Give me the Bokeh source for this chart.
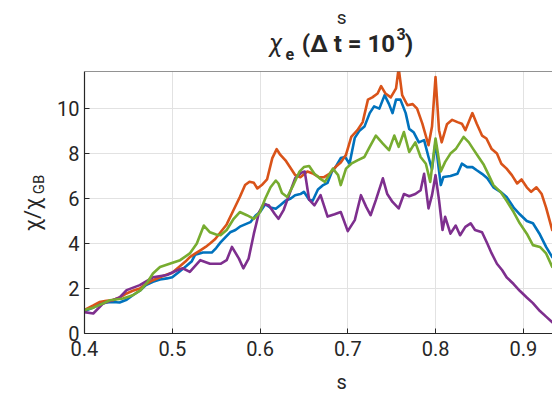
import numpy as np
from bokeh.plotting import figure
from bokeh.models import Range1d, FixedTicker, Span
from bokeh.layouts import row, column
from bokeh.core.properties import value
from bokeh.embed import file_html
from bokeh.resources import INLINE

# ---------------- data ----------------
s_blue = [0.400, 0.410, 0.417, 0.425, 0.432, 0.440, 0.448, 0.455, 0.463, 0.470,
          0.478, 0.486, 0.494, 0.500, 0.508, 0.516, 0.522, 0.526, 0.535, 0.545,
          0.550, 0.555, 0.561, 0.566, 0.572, 0.577, 0.583, 0.589, 0.595, 0.600,
          0.606, 0.612, 0.618, 0.623, 0.629, 0.635, 0.640, 0.646, 0.650, 0.656,
          0.660, 0.666, 0.672, 0.677, 0.682, 0.686, 0.692, 0.697, 0.702, 0.708,
          0.713, 0.719, 0.725, 0.730, 0.736, 0.742, 0.747, 0.751, 0.755, 0.760,
          0.766, 0.770, 0.775, 0.781, 0.787, 0.792, 0.796, 0.800, 0.806, 0.809,
          0.817, 0.825, 0.830, 0.836, 0.842, 0.847, 0.853, 0.859, 0.866, 0.874,
          0.881, 0.889, 0.896, 0.904, 0.911, 0.919, 0.926, 0.933]
chi_blue = [1.0, 1.15, 1.3, 1.38, 1.4, 1.38, 1.5, 1.7, 1.9, 2.15,
            2.3, 2.4, 2.45, 2.5, 2.75, 3.0, 3.2, 3.5, 3.6, 3.6,
            3.8, 4.05, 4.3, 4.5, 4.6, 4.75, 4.85, 4.95, 5.25, 5.4,
            5.75, 5.6, 5.55, 5.7, 5.9, 6.0, 6.15, 6.2, 6.3, 5.95,
            5.9, 6.4, 6.6, 6.7, 7.2, 7.4, 7.8, 7.85, 7.55, 8.7,
            9.0, 9.2, 9.8, 10.1, 10.0, 10.6, 10.2, 9.8, 10.4, 10.4,
            9.8, 9.1, 8.95, 8.5, 8.6, 7.85, 7.3, 8.5, 6.6, 6.96,
            7.0, 7.1, 7.55, 7.4, 7.4, 7.26, 7.1, 6.9, 6.5, 6.3,
            6.07, 5.6, 5.3, 5.0, 4.9, 4.4, 3.85, 3.4]

s_orange = [0.400, 0.410, 0.417, 0.425, 0.432, 0.440, 0.448, 0.455, 0.463, 0.470,
            0.478, 0.486, 0.494, 0.500, 0.509, 0.515, 0.520, 0.526, 0.532, 0.538,
            0.543, 0.549, 0.555, 0.562, 0.570, 0.577, 0.583, 0.588, 0.593, 0.597,
            0.602, 0.608, 0.614, 0.619, 0.623, 0.629, 0.635, 0.640, 0.646, 0.654,
            0.661, 0.667, 0.673, 0.679, 0.686, 0.692, 0.698, 0.704, 0.711, 0.717,
            0.723, 0.728, 0.734, 0.738, 0.743, 0.749, 0.755, 0.758, 0.762, 0.768,
            0.774, 0.779, 0.785, 0.792, 0.796, 0.800, 0.804, 0.807, 0.813, 0.819,
            0.825, 0.830, 0.834, 0.842, 0.847, 0.853, 0.858, 0.864, 0.870, 0.875,
            0.881, 0.887, 0.893, 0.898, 0.904, 0.909, 0.915, 0.921, 0.926, 0.933]
chi_orange = [1.05, 1.25, 1.4, 1.45, 1.48, 1.6, 1.78, 1.9, 2.0, 2.2,
              2.37, 2.5, 2.62, 2.7, 3.0, 3.2, 3.4, 3.55, 3.7, 3.85,
              4.0, 4.2, 4.5, 4.85, 5.5, 6.07, 6.6, 6.75, 6.7, 6.45,
              6.6, 6.85, 7.8, 8.2, 7.95, 7.7, 7.35, 7.05, 6.95, 7.2,
              7.1, 6.95, 6.95, 7.1, 7.4, 7.6, 7.95, 8.74, 9.04, 9.4,
              10.4, 10.5, 10.67, 11.0, 10.67, 10.5, 10.9, 11.8, 10.6, 10.15,
              10.2, 10.0, 9.33, 8.37, 9.2, 11.4, 9.04, 8.5, 9.3, 9.5,
              9.4, 9.33, 9.04, 9.8, 9.33, 8.8, 8.67, 8.2, 8.0, 7.55,
              7.33, 7.04, 6.67, 6.85, 6.5, 6.3, 6.5, 6.2, 5.6, 4.6]

s_green = [0.400, 0.410, 0.417, 0.429, 0.444, 0.455, 0.464, 0.472, 0.478, 0.486,
           0.497, 0.503, 0.509, 0.520, 0.528, 0.536, 0.543, 0.550, 0.555, 0.562,
           0.570, 0.577, 0.585, 0.593, 0.600, 0.606, 0.612, 0.618, 0.621, 0.625,
           0.631, 0.638, 0.645, 0.650, 0.656, 0.662, 0.668, 0.674, 0.683, 0.689,
           0.692, 0.698, 0.704, 0.711, 0.719, 0.725, 0.732, 0.740, 0.747, 0.753,
           0.758, 0.764, 0.770, 0.777, 0.783, 0.789, 0.794, 0.800, 0.806, 0.811,
           0.817, 0.823, 0.828, 0.832, 0.838, 0.843, 0.849, 0.855, 0.860, 0.866,
           0.874, 0.881, 0.889, 0.896, 0.904, 0.911, 0.919, 0.926, 0.933]
chi_green = [1.04, 1.15, 1.26, 1.48, 1.56, 1.7, 1.93, 2.3, 2.67, 2.96,
             3.1, 3.18, 3.26, 3.56, 4.0, 4.8, 4.5, 4.4, 4.37, 4.6,
             5.1, 5.4, 5.26, 5.1, 5.4, 6.0, 6.5, 6.8, 6.67, 6.25,
             6.07, 6.6, 7.2, 7.4, 7.45, 7.1, 6.9, 6.74, 7.33, 7.04,
             6.6, 7.33, 7.55, 7.7, 7.85, 8.3, 8.8, 8.44, 8.15, 8.8,
             8.3, 8.96, 8.07, 8.5, 7.85, 7.55, 6.74, 8.67, 7.2, 7.63,
             8.0, 8.2, 8.5, 8.74, 8.5, 8.2, 7.85, 7.5, 7.1, 6.6,
             6.3, 5.9, 5.4, 4.9, 4.44, 3.93, 3.85, 3.56, 2.96]

s_purple = [0.400, 0.410, 0.421, 0.432, 0.440, 0.448, 0.463, 0.478, 0.494, 0.505,
            0.512, 0.520, 0.532, 0.543, 0.555, 0.562, 0.568, 0.576, 0.581, 0.587,
            0.593, 0.599, 0.604, 0.610, 0.617, 0.621, 0.627, 0.633, 0.640, 0.647,
            0.651, 0.656, 0.662, 0.669, 0.677, 0.685, 0.692, 0.700, 0.708, 0.715,
            0.721, 0.726, 0.732, 0.740, 0.745, 0.751, 0.758, 0.764, 0.770, 0.777,
            0.783, 0.787, 0.792, 0.796, 0.800, 0.804, 0.808, 0.811, 0.817, 0.823,
            0.828, 0.834, 0.840, 0.845, 0.853, 0.859, 0.864, 0.870, 0.876, 0.881,
            0.889, 0.896, 0.904, 0.911, 0.919, 0.926, 0.933]
chi_purple = [0.95, 0.89, 1.33, 1.48, 1.6, 1.93, 2.15, 2.5, 2.6, 2.8,
              2.9, 2.74, 3.26, 3.1, 3.1, 3.26, 3.85, 3.33, 2.9, 3.33,
              4.44, 5.4, 5.75, 5.7, 5.3, 5.1, 5.5, 6.15, 6.9, 7.15,
              7.2, 5.95, 5.7, 6.15, 5.2, 5.3, 5.4, 4.55, 5.04, 6.15,
              5.63, 5.26, 5.93, 6.9, 6.2, 5.85, 5.56, 6.2, 6.1, 6.2,
              6.37, 7.1, 5.56, 6.15, 7.04, 5.93, 4.6, 5.19, 4.44, 4.8,
              4.37, 4.74, 4.9, 4.6, 4.5, 4.0, 3.56, 3.1, 2.81, 2.5,
              2.2, 1.9, 1.6, 1.35, 1.0, 0.75, 0.5]

x_ticks = [0.4, 0.5, 0.6, 0.7, 0.8, 0.9]
y_ticks = [0, 2, 4, 6, 8, 10]
X_START, X_END = 0.4, 0.9333
Y_START, Y_END = 0.0, 11.65

# ---------------- layout (window pixels) ----------------
W, H = 552, 393
LEFT_W = 48          # strip holding the y-axis label
TOP_H = 62           # strip holding the titles
BOT_H = 26           # strip holding the x-axis label
FL, FR, FT, FB = 84, 552, 71, 333   # plot frame in the window
TXT = "#262626"
FONT = "Roboto"
MAIN_W = W - LEFT_W
MAIN_H = H - TOP_H - BOT_H


def strip(w, h):
    f = figure(width=w, height=h, output_backend="svg", toolbar_location=None,
               x_range=Range1d(0, w), y_range=Range1d(0, h), title=None,
               x_axis_location=None, y_axis_location=None, min_border=0)
    f.grid.visible = False
    f.outline_line_color = None
    f.background_fill_color = "white"
    f.border_fill_color = "white"
    return f


def put(f, ox, oy, h, px, py, text, size, style="normal", angle=0.0,
        align="center", font=FONT):
    f.text(x=[px - ox], y=[oy + h - py], text=[text], text_font=value(font),
           text_font_size=value(f"{size}px"), text_font_style=style,
           text_color=TXT, text_align=align, text_baseline="middle", angle=angle)


# main plot
p = figure(width=MAIN_W, height=MAIN_H, output_backend="svg", toolbar_location=None,
           x_range=Range1d(X_START, X_END), y_range=Range1d(Y_START, Y_END), title=None,
           min_border_left=FL - LEFT_W, min_border_right=W - FR,
           min_border_top=FT - TOP_H, min_border_bottom=(H - BOT_H) - FB)
p.outline_line_color = None
p.background_fill_color = "white"
p.border_fill_color = "white"

p.xaxis.ticker = FixedTicker(ticks=x_ticks)
p.yaxis.ticker = FixedTicker(ticks=y_ticks)
for ax in (p.xaxis[0], p.yaxis[0]):
    ax.axis_line_color = TXT
    ax.axis_line_width = 1.2
    ax.major_tick_line_color = TXT
    ax.major_tick_in = 5
    ax.major_tick_out = 0
    ax.minor_tick_line_color = None
    ax.major_label_text_font = FONT
    ax.major_label_text_font_size = "20px"
    ax.major_label_text_color = TXT
p.xaxis.major_label_standoff = 7
p.yaxis.major_label_standoff = 5

p.add_layout(Span(location=Y_END, dimension="width", line_color=TXT, line_width=1.2))

p.xgrid.grid_line_color = "#e2e2e2"
p.ygrid.grid_line_color = "#e2e2e2"

kw = dict(line_width=2.6, line_join="round", line_cap="round")
p.line(s_blue, chi_blue, color="#0072BD", **kw)
p.line(s_orange, chi_orange, color="#D95319", **kw)
p.line(s_purple, chi_purple, color="#7E2F8E", **kw)
p.line(s_green, chi_green, color="#77AC30", **kw)

# title strip (window offset LEFT_W, 0)
top = strip(MAIN_W, TOP_H)
put(top, LEFT_W, 0, TOP_H, 325, 17, "s", 19)
put(top, LEFT_W, 0, TOP_H, 254, 43, "χ", 25, "italic")
put(top, LEFT_W, 0, TOP_H, 269, 53, "e", 16, "bold")
put(top, LEFT_W, 0, TOP_H, 282, 43, "(Δ t = 10", 24, "bold", align="left")
put(top, LEFT_W, 0, TOP_H, 384, 33, "3", 16, "bold", align="left")
put(top, LEFT_W, 0, TOP_H, 393, 43, ")", 24, "bold", align="left")

# y-label strip (window offset 0, 0)
left = strip(LEFT_W, H)
put(left, 0, 0, H, 32, 214, "χ/χ", 22, angle=np.pi / 2)
put(left, 0, 0, H, 38, 184, "GB", 15, angle=np.pi / 2)

# x-label strip (window offset LEFT_W, H - BOT_H)
bot = strip(MAIN_W, BOT_H)
put(bot, LEFT_W, H - BOT_H, BOT_H, 325, 381, "s", 20)

layout = row(left, column(top, p, bot))
open("out.html", "w").write(file_html(layout, INLINE))
